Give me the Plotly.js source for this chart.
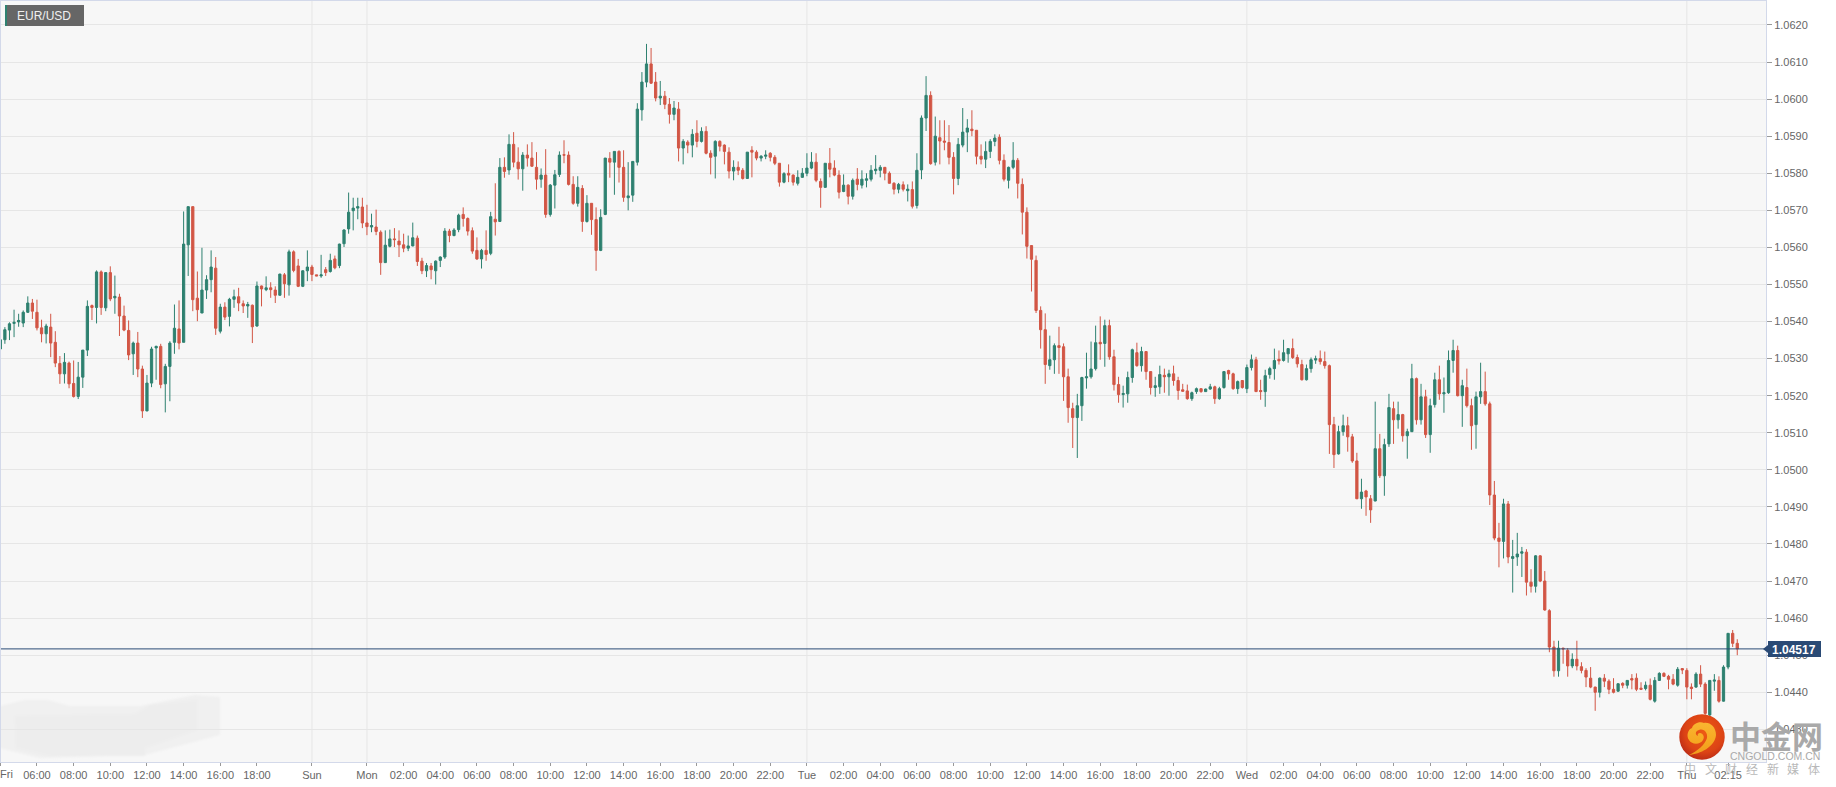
<!DOCTYPE html>
<html>
<head>
<meta charset="utf-8">
<script src="https://cdn.plot.ly/plotly-3.0.1.min.js"></script>
<style>html,body{margin:0;padding:0;background:#fff}#chart{width:1836px;height:787px}</style>
</head>
<body>
<div id="chart"></div>
<script>
// EUR/USD 15-minute candles. Values are pipettes (0.00001) relative to the base price.
const basePrice = 1.05;
const opens = [
326,351,377,395,399,396,425,450,425,383,
367,385,344,287,259,288,233,198,250,323,
443,438,534,437,532,464,466,415,376,313,
342,272,159,234,329,333,232,279,344,380,
344,607,710,463,423,485,513,544,374,439,
414,460,467,448,442,444,388,496,486,491,
485,471,526,499,588,550,495,537,547,526,
523,540,535,569,551,610,650,699,706,709,
666,655,655,641,559,603,623,617,607,598,
604,625,563,537,550,537,565,574,644,632,
648,689,678,645,592,569,592,584,676,670,
816,809,878,830,812,849,841,816,784,795,
689,768,797,850,849,770,719,759,670,719,
675,592,689,840,830,859,816,734,741,830,
971,1046,1095,1046,1003,1008,986,959,973,868,
884,876,908,886,913,854,846,886,876,857,
806,816,808,786,862,857,841,846,854,843,
827,776,800,795,773,789,800,814,830,778,
762,827,814,795,751,768,738,784,768,781,
784,807,808,816,800,773,757,769,753,756,
713,809,949,1010,830,896,887,883,843,786,
876,911,919,916,846,838,859,886,897,835,
781,816,835,770,695,605,565,430,378,281,
297,335,332,251,165,141,173,248,251,273,
344,341,389,305,230,203,205,249,316,281,
319,265,222,224,255,251,259,241,216,213,
192,211,219,211,218,224,192,222,268,259,
219,241,219,276,297,214,211,257,273,298,
295,313,327,303,284,243,273,296,300,292,
281,122,43,103,119,89,24,-78,-57,-78,
-84,57,-16,70,165,135,149,92,103,246,
135,197,95,176,243,205,208,295,322,200,
222,173,122,197,211,178,-68,-184,-193,-92,
-239,-235,-225,-222,-303,-314,-232,-300,-380,-478,
-542,-481,-487,-529,-511,-531,-541,-562,-586,-600,
-562,-570,-592,-597,-576,-581,-563,-562,-589,-590,
-581,-624,-568,-549,-557,-565,-581,-536,-541,-586,
-586,-551,-578,-661,-570,-568,-624,-532,-441,-468];
const highs = [
353,385,398,432,421,430,468,461,459,405,
394,421,374,307,315,292,295,291,323,457,
446,538,538,533,549,524,475,443,403,346,
372,281,256,332,335,340,286,347,446,457,
697,710,710,535,599,525,592,574,448,452,
464,486,491,457,453,446,508,497,522,506,
495,529,531,594,592,569,538,592,553,526,
580,547,583,578,610,649,748,734,734,734,
715,691,702,646,646,648,652,646,637,632,
667,632,572,558,558,565,576,652,650,652,
691,708,681,654,627,596,646,696,773,841,
843,905,911,870,857,878,884,857,813,865,
771,809,859,889,859,792,792,768,741,719,
708,703,841,857,859,862,862,830,832,989,
1073,1149,1138,1073,1049,1022,1003,995,992,892,
889,919,943,924,927,862,889,889,878,870,
835,832,814,857,873,862,849,862,857,849,
827,803,824,797,808,814,854,857,854,786,
827,868,835,808,797,770,786,814,808,800,
822,849,822,816,805,776,774,778,770,778,
854,956,1062,1021,953,943,943,930,857,895,
976,946,970,916,878,886,892,905,905,851,
818,884,841,786,708,605,578,441,422,362,
341,386,341,273,181,205,251,316,346,389,
414,405,405,324,251,227,265,327,343,332,
319,265,251,281,273,270,281,251,232,230,
211,222,219,219,232,227,224,265,270,262,
241,241,284,311,305,243,270,278,327,322,
351,327,354,311,297,284,303,308,322,319,
284,143,119,149,143,97,46,-24,-54,-68,
184,97,84,205,184,184,151,111,286,249,
232,216,192,262,281,249,322,351,335,243,
273,192,211,289,265,184,-30,-143,-78,-84,
-189,-170,-208,-214,-268,-230,-230,-273,-376,-461,
-461,-480,-481,-495,-461,-519,-535,-532,-585,-560,
-551,-565,-562,-576,-573,-567,-551,-549,-573,-571,
-563,-559,-546,-546,-553,-551,-532,-535,-535,-576,
-546,-527,-573,-568,-551,-557,-527,-441,-432,-457];
const lows = [
311,340,350,358,386,385,423,407,376,344,
341,304,277,232,233,220,195,191,221,307,
404,395,418,428,455,421,361,374,296,256,
250,140,158,223,243,220,155,185,313,325,
344,523,428,401,423,461,479,364,368,404,
387,437,428,423,410,342,386,441,482,464,
450,470,464,470,533,493,493,509,509,523,
518,523,532,541,544,601,637,646,676,652,
633,641,633,526,558,600,601,574,587,590,
603,550,528,520,514,500,547,569,614,630,
641,656,632,583,566,543,564,579,632,669,
788,796,816,783,753,818,817,756,761,680,
683,705,790,827,767,715,710,642,667,634,
537,590,687,788,742,775,723,700,723,821,
942,1032,1041,994,984,973,934,943,832,824,
854,843,870,883,851,797,786,859,824,786,
781,795,783,786,789,835,832,838,832,822,
764,773,776,767,767,788,792,811,776,707,
761,789,792,732,749,716,729,754,759,762,
778,797,789,781,772,743,746,751,724,705,
705,784,914,823,821,824,862,824,743,768,
870,857,900,824,824,814,841,873,824,778,
759,811,732,635,570,481,423,327,232,270,
259,259,186,127,59,32,132,219,246,268,
297,278,297,214,181,168,181,235,278,265,
243,203,197,205,208,200,227,189,211,189,
186,205,208,210,216,178,189,219,243,216,
205,219,207,268,210,189,170,246,243,284,
292,289,299,276,241,241,262,286,284,273,
43,5,41,92,49,19,-79,-105,-124,-143,
-85,-22,-70,62,70,111,76,30,102,122,
122,86,46,168,189,154,205,262,198,116,
168,54,57,178,173,-95,-190,-263,-239,-252,
-331,-259,-289,-339,-331,-331,-303,-380,-492,-558,
-558,-523,-558,-535,-541,-549,-586,-589,-650,-614,
-586,-605,-603,-599,-589,-590,-592,-597,-594,-595,
-622,-628,-569,-559,-592,-581,-585,-551,-619,-619,
-588,-586,-661,-675,-596,-628,-625,-538,-478,-500];
const closes = [
351,378,394,398,403,425,450,428,383,367,
388,342,288,259,290,232,198,250,323,441,
438,534,438,532,461,468,415,377,310,342,
272,159,234,326,333,230,279,342,382,342,
609,710,459,432,485,513,547,382,439,412,
460,467,450,442,446,386,496,488,491,486,
471,528,502,588,538,495,537,547,527,523,
526,532,565,545,609,647,695,706,710,666,
656,659,643,559,606,623,621,607,598,604,
626,562,537,551,540,563,574,644,632,647,
687,678,644,590,569,592,581,683,669,816,
805,878,830,812,849,841,819,784,795,689,
768,796,849,849,770,719,762,670,719,675,
592,681,841,830,859,816,735,739,832,973,
1046,1095,1043,1003,1008,986,959,976,868,886,
876,905,886,913,854,843,886,873,859,806,
816,808,786,857,857,841,846,849,843,827,
776,799,795,776,789,800,814,830,781,762,
827,811,795,749,768,738,781,770,784,785,
808,811,816,800,773,757,770,757,757,711,
808,949,1010,826,900,887,884,843,786,878,
911,922,915,846,838,859,886,895,835,784,
816,835,773,695,603,568,430,378,284,297,
335,330,251,168,141,173,249,251,272,343,
340,389,305,230,203,206,249,324,281,319,
265,222,227,257,251,259,241,214,212,192,
208,219,211,218,224,192,219,265,259,219,
238,222,276,297,211,211,254,273,295,294,
316,327,303,286,243,273,297,300,292,281,
122,41,103,119,89,24,-78,-60,-73,-108,
57,-16,68,168,135,149,92,103,246,135,
197,95,173,243,205,208,295,322,200,227,
173,119,197,211,178,-68,-184,-193,-92,-235,
-234,-227,-221,-303,-314,-232,-300,-378,-478,-542,
-481,-483,-529,-511,-529,-541,-559,-586,-600,-562,
-570,-592,-600,-577,-581,-568,-567,-592,-592,-581,
-619,-568,-549,-557,-565,-578,-538,-540,-586,-590,
-551,-578,-657,-568,-567,-624,-532,-441,-468,-483];

const tickIndex = [
8,16,24,32,40,48,56,68,80,88,96,104,112,120,128,136,144,152,160,168,
176,184,192,200,208,216,224,232,240,248,256,264,272,280,288,296,304,312,320,328,
336,344,352,360,368,377];
const tickLabel = [
"06:00","08:00","10:00","12:00","14:00","16:00","18:00","Sun","Mon","02:00","04:00","06:00","08:00","10:00","12:00","14:00","16:00","18:00","20:00","22:00",
"Tue","02:00","04:00","06:00","08:00","10:00","12:00","14:00","16:00","18:00","20:00","22:00","Wed","02:00","04:00","06:00","08:00","10:00","12:00","14:00",
"16:00","18:00","20:00","22:00","Thu","02:15"];
const dayBreakIndex = [68,80,176,272,368];
const lastPrice = 1.04517;
const symbolName = "EUR/USD";
const mediaChars = ["中","文","财","经","新","媒","体"];

const toPrice = v => +(basePrice + v / 100000).toFixed(5);
const GREEN = "#2e8170", RED = "#d25645", TEXT = "#666666", GRID = "#e6e6e6", FRAME = "#d3d9ea", NAVY = "#2a4a75";
const FONT = "'Liberation Sans', Arial, sans-serif";
const CJK = "'Noto Sans CJK SC', sans-serif";

// Decoration placement helpers (screen pixels to paper fractions)
const PW = 1766, PH = 762;
const px = x => x / PW, py = y => 1 - y / PH;
const rect = (x0, y0, x1, y1, fill) => ({type:"rect", xref:"paper", yref:"paper", x0:px(x0), x1:px(x1), y0:py(y0), y1:py(y1), fillcolor:fill, line:{width:0}, layer:"above"});
const pathShape = (pts, fill) => ({type:"path", xref:"paper", yref:"paper", path:"M" + pts.map(p => px(p[0]) + "," + py(p[1])).join(" L") + " Z", fillcolor:fill, line:{width:0}, layer:"above"});
const svgUri = s => "data:image/svg+xml;charset=utf-8," + encodeURIComponent(s);

const logoSvg = `<svg xmlns="http://www.w3.org/2000/svg" width="46" height="46" viewBox="0 0 46 46">
<defs><radialGradient id="a" cx="55%" cy="40%" r="62%"><stop offset="0" stop-color="#ee5a14"/><stop offset="0.7" stop-color="#dc4315"/><stop offset="1" stop-color="#bb2c16"/></radialGradient>
<linearGradient id="b" x1="0" y1="0" x2="0" y2="1"><stop offset="0" stop-color="#f9b531"/><stop offset="0.6" stop-color="#f6a821"/><stop offset="1" stop-color="#ef9a1e"/></linearGradient></defs>
<circle cx="23" cy="23" r="22.7" fill="url(#a)"/>
<path fill="url(#b)" d="M10 41 C21 40 36 33 37 21 C37 13 31 8 25 9 C20 7 14 10 13 14 C9 15 7 22 10 26 C13 31 21 31 24 26 C26 23 24 19 21 19 C19 19 18 21 19 22 C16 21 16 17 20 16 C25 14 29 19 28 24 C26 31 18 37 10 41Z"/></svg>`;
const smudgeSvg = `<svg xmlns="http://www.w3.org/2000/svg" width="240" height="80" viewBox="0 0 240 80">
<defs><filter id="f" x="-5%" y="-10%" width="110%" height="120%"><feGaussianBlur stdDeviation="1.2"/></filter></defs>
<g filter="url(#f)"><path fill="#f0f0f0" d="M0 16 L24 10 L48 10 L70 16 L140 16 L195 5 L220 7 L220 45 L145 65 L40 68 L0 58Z"/>
<path fill="#ededed" d="M15 26 L135 24 L150 15 L197 10 L197 40 L145 58 L145 66 L50 66 L16 58Z"/></g></svg>`;

const images = [
  {source: svgUri(smudgeSvg), xref:"paper", yref:"paper", x:px(0), y:py(690), sizex:px(240), sizey:80/PH, sizing:"stretch", xanchor:"left", yanchor:"top", layer:"below"},
  {source: svgUri(logoSvg), xref:"paper", yref:"paper", x:px(1679), y:py(714), sizex:px(46), sizey:46/PH, sizing:"stretch", xanchor:"left", yanchor:"top", layer:"above"}
];

const shapes = dayBreakIndex.map(i => ({type:"line", xref:"x", yref:"paper", x0:i, x1:i, y0:0, y1:1, line:{color:GRID, width:1}, layer:"below"}));
shapes.push({type:"line", xref:"paper", yref:"y", x0:0, x1:1, y0:lastPrice, y1:lastPrice, line:{color:NAVY, width:1}, layer:"above"});
// Pale frame along the top and left edges of the plot
shapes.push({type:"line", xref:"paper", yref:"paper", x0:px(0.5), x1:px(0.5), y0:0, y1:1, line:{color:FRAME, width:1}, layer:"above"});
shapes.push({type:"line", xref:"paper", yref:"paper", x0:0, x1:1, y0:py(0.5), y1:py(0.5), line:{color:FRAME, width:1}, layer:"above"});
shapes.push(rect(1768, 641, 1821, 657, NAVY));
shapes.push(pathShape([[1763,649],[1768,645],[1768,653]], NAVY));
shapes.push(rect(5, 5, 84, 26, "#666666"));
shapes.push(rect(5, 5, 7, 26, GREEN));

const note = (text, x, y, size, color, extra) => Object.assign({
  text, xref:"paper", yref:"paper", x:px(x), y:py(y), xanchor:"center", yanchor:"middle",
  showarrow:false, font:{family:FONT, size, color}
}, extra || {});

const annotations = [
  note(symbolName, 44, 15.5, 12, "#f0f0f0"),
  note("<b>" + lastPrice.toFixed(5) + "</b>", 1794, 649.5, 12, "#ffffff"),
  note("Fri", 7, 774, 11, TEXT),
  note("<b>中金网</b>", 1776, 734, 31, "#a9a9a9", {font:{family:CJK, size:31, color:"#a9a9a9"}}),
  note("CNGOLD.COM.CN", 1775, 756, 10.5, "#aaaaaa")
];
mediaChars.forEach((c, k) => annotations.push(note(c, 1690 + 20.7 * k, 769, 12, "#b9b9b9", {font:{family:CJK, size:12, color:"#b9b9b9"}})));

const trace = {
  type: "candlestick",
  x: opens.map((_, i) => i),
  open: opens.map(toPrice), high: highs.map(toPrice), low: lows.map(toPrice), close: closes.map(toPrice),
  increasing: {line:{color:GREEN, width:1}, fillcolor:GREEN},
  decreasing: {line:{color:RED, width:1}, fillcolor:RED},
  whiskerwidth: 0,
  width: 0.45,
  hoverinfo: "skip"
};

const layout = {
  width: 1836, height: 787,
  margin: {l:0, r:70, t:0, b:25, pad:0},
  paper_bgcolor: "#ffffff", plot_bgcolor: "#f7f7f7",
  showlegend: false, dragmode: false,
  font: {family:FONT, size:11, color:TEXT},
  xaxis: {
    type:"linear", range:[-0.0655, 385.27], rangeslider:{visible:false},
    tickmode:"array", tickvals:[0].concat(tickIndex), ticktext:[""].concat(tickLabel),
    ticks:"outside", ticklen:3, tickcolor:"#999999", tickwidth:1, tickangle:0,
    showgrid:false, zeroline:false, showline:true, linecolor:FRAME, linewidth:1, mirror:true,
    tickfont:{family:FONT, size:11, color:TEXT}
  },
  yaxis: {
    side:"right", range:[1.042119, 1.062674], tick0:1.062, dtick:0.001, tickformat:".4f",
    ticks:"outside", ticklen:5, tickcolor:"#999999", tickwidth:1,
    showgrid:true, gridcolor:GRID, gridwidth:1, zeroline:false, showline:true, linecolor:FRAME, linewidth:1, mirror:true,
    tickfont:{family:FONT, size:11, color:TEXT}
  },
  shapes, annotations, images
};

Plotly.newPlot("chart", [trace], layout, {displayModeBar:false, staticPlot:true});
</script>
</body>
</html>
